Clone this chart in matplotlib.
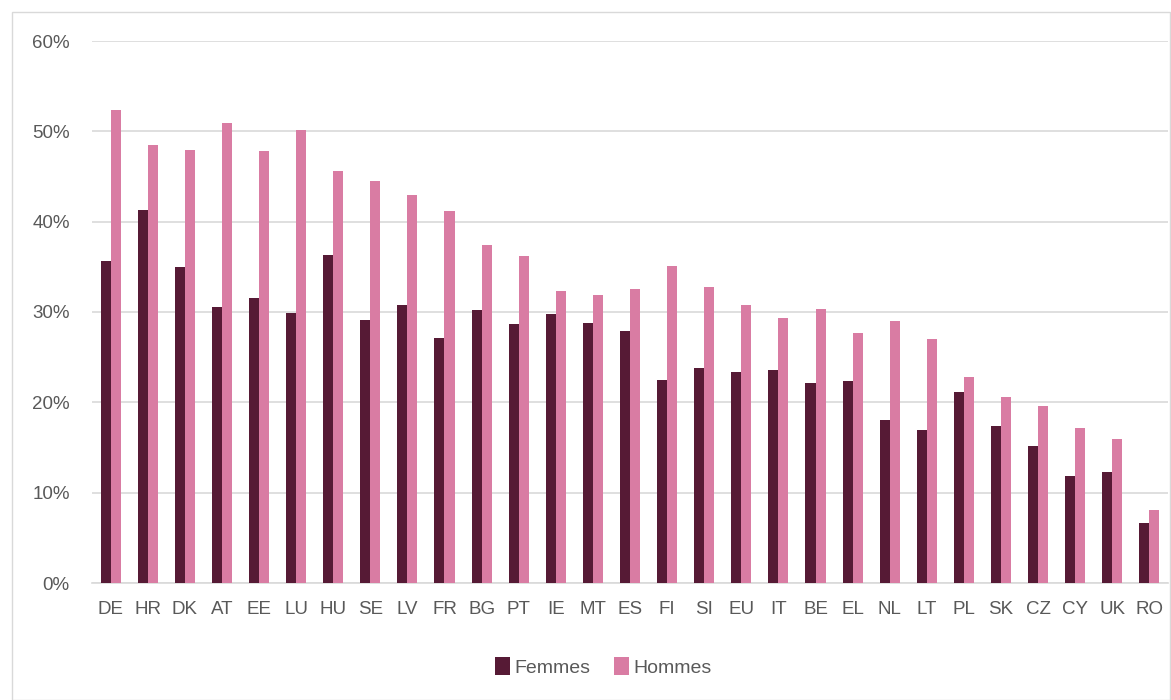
import numpy as np
import matplotlib.pyplot as plt
from matplotlib.patches import Rectangle
import matplotlib.ticker as mtick

pays = ['DE', 'HR', 'DK', 'AT', 'EE', 'LU', 'HU', 'SE', 'LV', 'FR', 'BG', 'PT', 'IE', 'MT', 'ES',
        'FI', 'SI', 'EU', 'IT', 'BE', 'EL', 'NL', 'LT', 'PL', 'SK', 'CZ', 'CY', 'UK', 'RO']
femmes = [35.7, 41.3, 35.0, 30.6, 31.6, 29.9, 36.3, 29.1, 30.8, 27.1, 30.2, 28.7, 29.8, 28.8, 27.9,
          22.5, 23.8, 23.4, 23.6, 22.1, 22.4, 18.0, 16.9, 21.1, 17.4, 15.2, 11.9, 12.3, 6.6]
hommes = [52.4, 48.5, 47.9, 50.9, 47.8, 50.1, 45.6, 44.5, 43.0, 41.2, 37.4, 36.2, 32.3, 31.9, 32.6,
          35.1, 32.8, 30.8, 29.3, 30.3, 27.7, 29.0, 27.0, 22.8, 20.6, 19.6, 17.2, 15.9, 8.1]

c_f = '#561a35'
c_h = '#d97ca3'
font = ['Liberation Sans', 'DejaVu Sans']
plt.rcParams['font.family'] = font

fig = plt.figure(figsize=(11.71, 7), dpi=100)
ax = fig.add_axes([92/1171, 1-583/700, 1076/1171, 542/700])

x = np.arange(len(pays))
w = 0.27
ax.bar(x - w/2, femmes, w, color=c_f, label='Femmes', zorder=3)
ax.bar(x + w/2, hommes, w, color=c_h, label='Hommes', zorder=3)

ax.set_xlim(-0.5, len(pays) - 0.5)
ax.set_ylim(0, 60)
ax.set_yticks(np.arange(0, 61, 10))
ax.yaxis.set_major_formatter(mtick.FuncFormatter(lambda v, p: '%d%%' % v))
ax.set_xticks(x)
ax.set_xticklabels(pays)
ax.grid(axis='y', color='#d9d9d9', linewidth=1.2, zorder=0)
for s in ['top', 'right', 'left']:
    ax.spines[s].set_visible(False)
ax.spines['bottom'].set_color('#d9d9d9')
ax.spines['bottom'].set_linewidth(1.2)
ax.tick_params(axis='both', length=0, labelsize=13.5, colors='#595959')
ax.tick_params(axis='x', pad=13)
ax.tick_params(axis='y', pad=16)

ax.legend(loc='center', bbox_to_anchor=(603/1171, 1-667/700), bbox_transform=fig.transFigure,
          ncol=2, frameon=False, fontsize=14, handlelength=0.8, handleheight=1.0,
          handletextpad=0.2, columnspacing=1.2, labelcolor='#595959')

fig.patches.append(Rectangle((12/1171, 0), 1158/1171, 1-12/700, transform=fig.transFigure,
                             fill=False, edgecolor='#d9d9d9', linewidth=1))

fig.savefig('out.png', dpi=100)
